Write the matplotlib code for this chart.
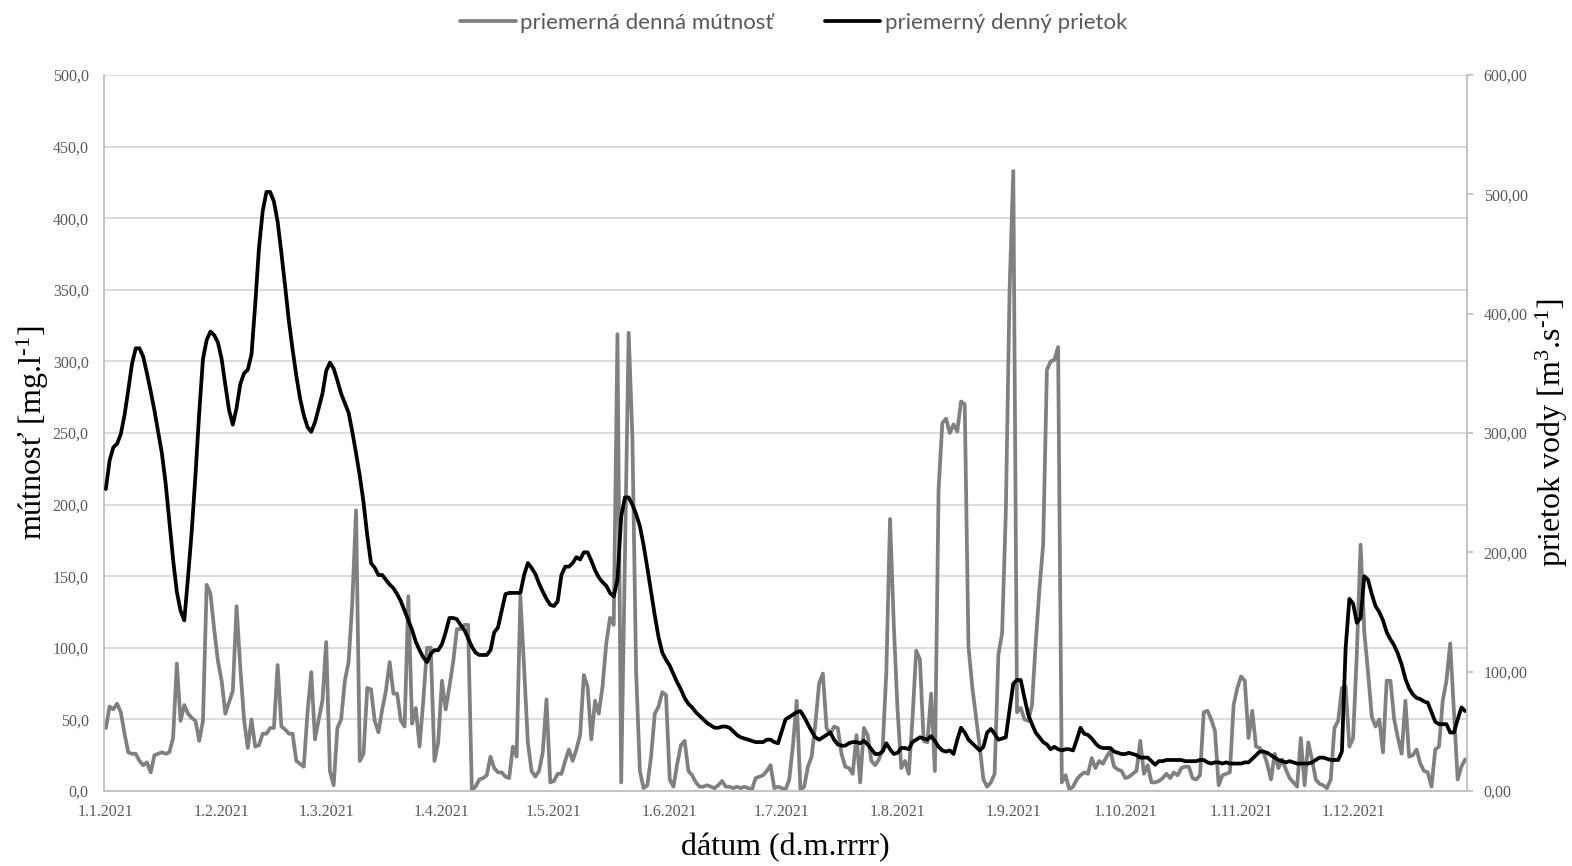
import matplotlib
matplotlib.use("Agg")
import matplotlib.pyplot as plt
from matplotlib.ticker import FuncFormatter, MultipleLocator
import pandas as pd

# Daily mean turbidity [mg/l], 1.1.2021 - 31.12.2021
turbidity = [
    44, 59, 57, 61, 55, 40, 27, 26, 26, 21,
    18, 20, 13, 25, 26, 27, 26, 27, 37, 89,
    49, 60, 54, 51, 49, 35, 49, 144, 138, 113,
    91, 77, 54, 62, 70, 129, 86, 50, 30, 50,
    31, 32, 40, 40, 44, 44, 88, 45, 43, 40,
    40, 21, 19, 17, 55, 83, 36, 50, 63, 104,
    14, 4, 44, 50, 77, 90, 132, 196, 21, 26,
    72, 71, 49, 41, 57, 70, 90, 68, 68, 49,
    45, 136, 47, 58, 31, 63, 100, 100, 21, 34,
    77, 57, 73, 90, 113, 113, 116, 116, 1, 3,
    8, 9, 11, 24, 16, 13, 13, 10, 9, 31,
    24, 136, 86, 34, 14, 10, 14, 27, 64, 6,
    7, 12, 12, 21, 29, 21, 29, 39, 81, 73,
    36, 63, 54, 73, 103, 121, 116, 319, 6, 163,
    320, 247, 83, 14, 2, 4, 24, 54, 59, 69,
    67, 8, 3, 19, 32, 35, 14, 11, 6, 3,
    3, 4, 3, 2, 4, 7, 3, 3, 2, 3,
    2, 3, 2, 1, 9, 10, 11, 14, 18, 2,
    3, 2, 1, 8, 32, 63, 1, 3, 17, 24,
    47, 75, 82, 44, 40, 45, 44, 26, 17, 16,
    12, 39, 6, 44, 39, 21, 18, 22, 29, 83,
    190, 116, 57, 16, 21, 12, 50, 98, 92, 35,
    34, 68, 14, 211, 257, 260, 250, 256, 251, 272,
    270, 101, 73, 52, 31, 8, 3, 6, 12, 95,
    110, 195, 349, 433, 55, 58, 50, 49, 60, 103,
    141, 172, 294, 300, 301, 310, 6, 11, 1, 3,
    8, 11, 13, 12, 23, 16, 21, 19, 24, 28,
    17, 15, 14, 9, 10, 12, 14, 35, 12, 18,
    6, 6, 7, 9, 12, 9, 13, 11, 16, 17,
    17, 9, 8, 11, 55, 56, 50, 42, 4, 11,
    12, 13, 60, 72, 80, 77, 37, 56, 31, 30,
    27, 19, 8, 26, 16, 22, 15, 9, 6, 3,
    37, 4, 34, 22, 8, 5, 4, 2, 8, 44,
    49, 72, 73, 31, 37, 96, 172, 111, 83, 52,
    45, 50, 27, 77, 77, 50, 37, 26, 63, 24,
    25, 29, 19, 14, 13, 3, 29, 31, 63, 77,
    103, 55, 8, 17, 22,
]

# Daily mean discharge [m3/s]
flow = [
    253, 277, 288, 291, 299, 315, 336, 358, 371, 371,
    364, 350, 335, 319, 301, 283, 258, 226, 194, 167,
    151, 143, 179, 218, 265, 317, 362, 378, 385, 382,
    376, 362, 340, 319, 307, 321, 341, 350, 353, 366,
    408, 455, 486, 502, 502, 494, 477, 451, 423, 394,
    370, 348, 329, 315, 305, 301, 309, 321, 333, 352,
    359, 354, 344, 333, 325, 317, 301, 283, 264, 242,
    214, 191, 187, 181, 181, 177, 173, 170, 165, 159,
    151, 143, 135, 125, 118, 112, 108, 115, 118, 118,
    123, 133, 145, 145, 144, 139, 135, 128, 121, 116,
    114, 114, 114, 118, 133, 137, 151, 165, 166, 166,
    166, 166, 181, 191, 187, 182, 174, 167, 161, 156,
    155, 159, 181, 188, 188, 191, 196, 194, 200, 200,
    193, 185, 179, 175, 172, 166, 163, 177, 230, 246,
    246, 240, 232, 222, 206, 187, 167, 147, 129, 116,
    110, 105, 98, 91, 85, 78, 73, 70, 66, 63,
    60, 57, 55, 53, 53, 54, 54, 53, 50, 47,
    45, 44, 43, 42, 41, 41, 41, 43, 43, 41,
    40, 50, 60, 62, 64, 66, 67, 62, 56, 50,
    45, 43, 45, 47, 49, 43, 39, 38, 38, 40,
    41, 41, 40, 42, 39, 35, 31, 31, 33, 40,
    35, 31, 32, 36, 36, 35, 41, 43, 45, 44,
    43, 46, 42, 37, 34, 33, 34, 31, 43, 53,
    49, 43, 40, 37, 34, 37, 49, 52, 48, 43,
    44, 45, 68, 90, 93, 93, 78, 64, 56, 49,
    45, 41, 39, 35, 37, 35, 34, 35, 35, 34,
    43, 53, 48, 47, 44, 40, 37, 36, 36, 36,
    33, 32, 31, 31, 32, 31, 30, 28, 28, 28,
    25, 22, 25, 25, 26, 26, 26, 26, 26, 25,
    25, 25, 25, 26, 26, 24, 23, 24, 24, 23,
    24, 23, 23, 23, 23, 24, 24, 27, 30, 33,
    33, 32, 30, 28, 26, 25, 24, 25, 24, 23,
    23, 23, 23, 24, 26, 28, 28, 27, 26, 26,
    26, 33, 120, 161, 157, 141, 145, 180, 177, 165,
    155, 150, 143, 133, 127, 122, 115, 106, 94, 86,
    81, 78, 77, 75, 74, 66, 58, 56, 56, 56,
    49, 49, 60, 70, 67,
]

month_starts = ["2021-01-01", "2021-02-01", "2021-03-01", "2021-04-01",
                "2021-05-01", "2021-06-01", "2021-07-01", "2021-08-01",
                "2021-09-01", "2021-10-01", "2021-11-01", "2021-12-01"]
month_labels = ["1.1.2021", "1.2.2021", "1.3.2021", "1.4.2021", "1.5.2021",
                "1.6.2021", "1.7.2021", "1.8.2021", "1.9.2021", "1.10.2021",
                "1.11.2021", "1.12.2021"]

legend_labels = ["priemerná denná mútnosť", "priemerný denný prietok"]

dates = pd.date_range("2021-01-01", periods=len(turbidity), freq="D")

plt.rcParams["mathtext.fontset"] = "custom"
plt.rcParams["mathtext.rm"] = "Liberation Serif"
plt.rcParams["mathtext.it"] = "Liberation Serif:italic"
plt.rcParams["mathtext.default"] = "regular"

SERIF = "Liberation Serif"
TICK_COLOR = "#595959"
AXIS_COLOR = "#bfbfbf"
GRID_COLOR = "#d9d9d9"

fig = plt.figure(figsize=(15.72, 8.66), dpi=100)
ax = fig.add_axes([104 / 1572, 1 - 791 / 866, (1467 - 104) / 1572, (791 - 75) / 866])
ax2 = ax.twinx()

l1, = ax.plot(dates, turbidity, color="#808080", lw=2.7,
              solid_joinstyle="round", solid_capstyle="round")
l2, = ax2.plot(dates, flow, color="#000000", lw=2.7,
               solid_joinstyle="round", solid_capstyle="round")

half_day = pd.Timedelta(hours=12)
ax.set_xlim(dates[0] - half_day, dates[-1] + half_day)

ax.set_ylim(0, 500)
ax.yaxis.set_major_locator(MultipleLocator(50))
ax.yaxis.set_major_formatter(FuncFormatter(lambda v, p: f"{v:.1f}".replace(".", ",")))
ax2.set_ylim(0, 600)
ax2.yaxis.set_major_locator(MultipleLocator(100))
ax2.yaxis.set_major_formatter(FuncFormatter(lambda v, p: f"{v:.2f}".replace(".", ",")))

ax.set_xticks(pd.to_datetime(month_starts))
ax.set_xticklabels(month_labels)

ax.yaxis.grid(True, color=GRID_COLOR, lw=1.3)
ax.set_axisbelow(True)

for s in ("top", "right"):
    ax.spines[s].set_visible(False)
for s in ("left", "bottom"):
    ax.spines[s].set_color(AXIS_COLOR)
    ax.spines[s].set_linewidth(1.3)
for s in ("top", "left", "bottom"):
    ax2.spines[s].set_visible(False)
ax2.spines["right"].set_color(AXIS_COLOR)
ax2.spines["right"].set_linewidth(1.3)

ax.tick_params(axis="y", length=0, pad=11, labelcolor=TICK_COLOR, labelsize=11.5)
ax.tick_params(axis="x", length=0, pad=9, labelcolor=TICK_COLOR, labelsize=11.5)
ax2.tick_params(axis="y", direction="out", length=4, width=1.3, color=AXIS_COLOR,
                pad=8, labelcolor=TICK_COLOR, labelsize=11.5)
for lab in ax.get_xticklabels() + ax.get_yticklabels() + ax2.get_yticklabels():
    lab.set_fontfamily(SERIF)

ax.set_ylabel(r"mútnosť [mg.l$^{\text{-1}}$]", fontsize=23, family=SERIF,
              va="center", ha="center")
ax.yaxis.set_label_coords(-0.052, 0.5)
ax2.set_ylabel(r"prietok vody [m$^{3}$.s$^{\text{-1}}$]", fontsize=23, family=SERIF,
               rotation=90, va="center", ha="center")
ax2.yaxis.set_label_coords(1.0623, 0.5)
ax.set_xlabel("dátum (d.m.rrrr)", fontsize=23, family=SERIF, labelpad=10)

fig.legend([l1, l2], legend_labels, loc="center", bbox_to_anchor=(0.505, 0.974),
           ncol=2, frameon=False, handlelength=2.5, handletextpad=0.2,
           columnspacing=2.3, labelcolor=TICK_COLOR,
           prop={"family": "Lato", "size": 16})

fig.savefig("out.png", dpi=100)
